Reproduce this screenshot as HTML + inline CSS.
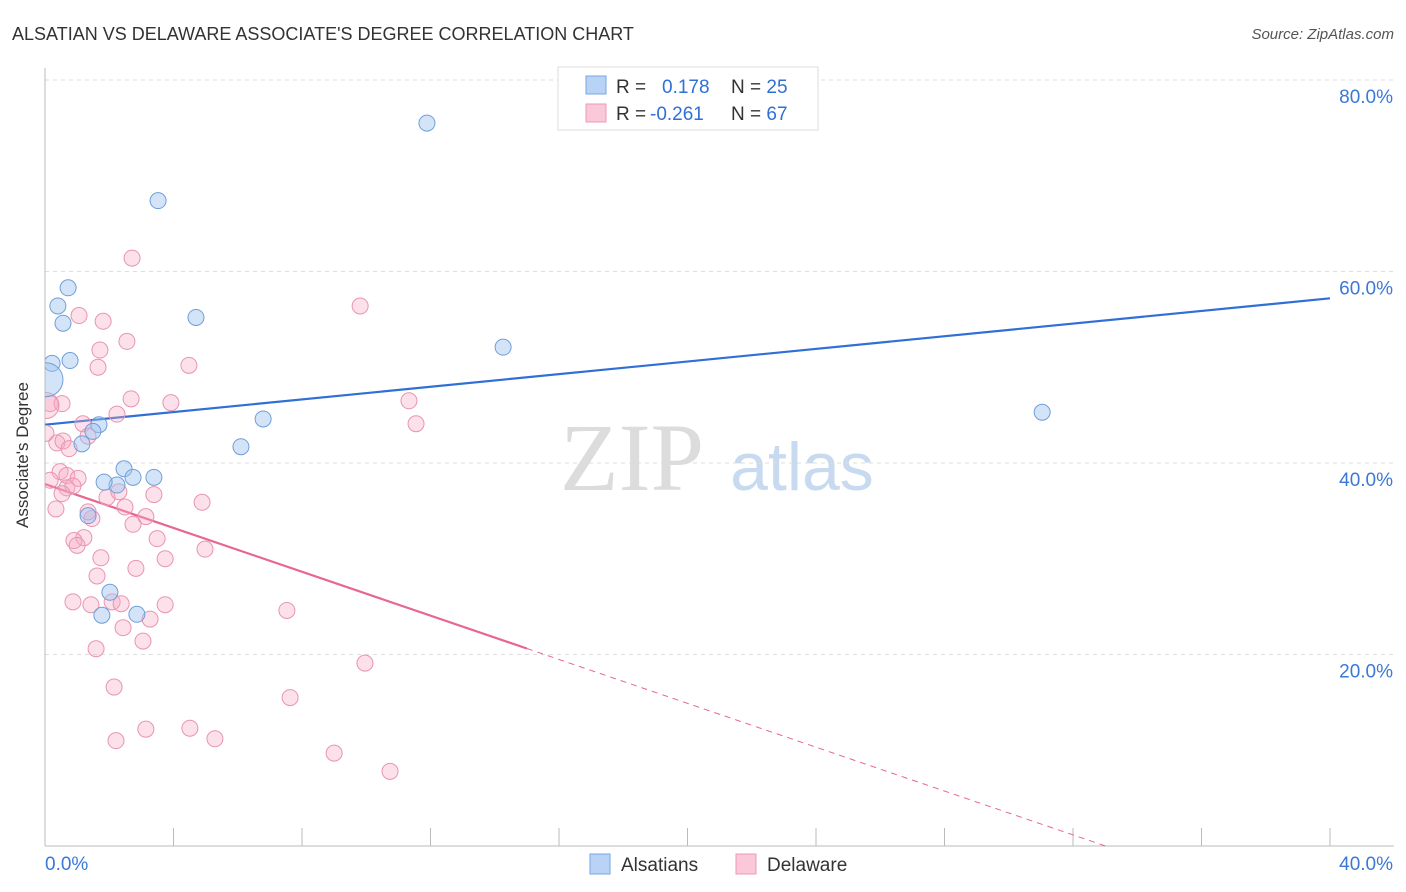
<!DOCTYPE html>
<html><head><meta charset="utf-8"><style>
body{margin:0;background:#fff;font-family:"Liberation Sans",sans-serif;}
#wrap{position:relative;width:1406px;height:892px;overflow:hidden;}
</style></head><body>
<div id="wrap">
<svg id="svg" width="1406" height="892" xmlns="http://www.w3.org/2000/svg">
<defs><clipPath id="plotclip"><rect x="45" y="60" width="1360" height="790"/></clipPath></defs>
<text x="12" y="40" font-size="18" fill="#333">ALSATIAN VS DELAWARE ASSOCIATE'S DEGREE CORRELATION CHART</text>
<text x="1394" y="39" font-size="15" fill="#555" font-style="italic" text-anchor="end">Source: ZipAtlas.com</text>
<g>
<text x="632" y="490" font-size="96" fill="#dcdcdc" font-family="Liberation Serif,serif" text-anchor="middle">ZIP</text>
<text x="802" y="490" font-size="68" fill="#c8daf0" text-anchor="middle">atlas</text>
</g>
<g id="grid"></g>
<g id="axes"></g>
<g id="lines"></g>
<g id="pts" clip-path="url(#plotclip)"></g>
<text x="28" y="455" font-size="17" fill="#333" text-anchor="middle" transform="rotate(-90 28 455)">Associate's Degree</text>
<g>
<rect x="558" y="67" width="260" height="63" fill="#fff" stroke="#ddd"/>
<rect x="586" y="76" width="20" height="18" fill="#b8d3f5" stroke="#7aa7e0"/>
<rect x="586" y="104" width="20" height="18" fill="#fac8d8" stroke="#ec9ab4"/>
<text x="616" y="93" font-size="19" fill="#333">R = <tspan fill="#2f6fd6" x="662">0.178</tspan><tspan x="731" fill="#333">N = </tspan><tspan fill="#2f6fd6">25</tspan></text>
<text x="616" y="120" font-size="19" fill="#333">R = <tspan fill="#2f6fd6" x="650">-0.261</tspan><tspan x="731" fill="#333">N = </tspan><tspan fill="#2f6fd6">67</tspan></text>
</g>
<g>
<rect x="590" y="854" width="20" height="20" fill="#b8d3f5" stroke="#7aa7e0"/>
<text x="621" y="871" font-size="19" fill="#333">Alsatians</text>
<rect x="736" y="854" width="20" height="20" fill="#fac8d8" stroke="#ec9ab4"/>
<text x="767" y="871" font-size="19" fill="#333">Delaware</text>
</g>
</svg>
</div>
<script>
const yTicks=[20,40,60,80];
const xTickLabels=["0.0%","40.0%"];
const blueX=[0.22,0.40,0.56,0.72,0.78,3.52,4.70,11.89,14.26,6.79,6.10,31.04,1.68,1.49,1.15,2.46,2.74,3.39,2.24,1.84,1.34,2.02,2.86,1.77,0.03];
const blueY=[50.4,56.4,54.6,58.3,50.7,67.4,55.2,75.5,52.1,44.6,41.7,45.3,44.0,43.3,42.0,39.4,38.5,38.5,37.7,38.0,34.5,26.5,24.2,24.1,48.7];
const pinkX=[2.71,9.81,1.06,1.81,2.55,1.71,4.48,1.65,2.68,3.92,2.24,11.33,11.55,1.18,1.34,0.37,0.56,0.75,0.16,0.53,0.03,0.47,0.68,1.03,0.68,0.87,0.53,1.93,2.30,3.39,4.89,2.49,0.34,1.46,3.14,1.34,2.74,3.49,1.21,0.90,1.00,4.98,1.74,3.74,2.83,1.62,0.87,1.43,2.09,2.37,3.74,7.53,3.27,2.43,3.05,1.59,9.96,2.15,7.63,4.51,3.14,2.21,5.29,9.00,10.74,0.16,0.03];
const pinkY=[61.4,56.4,55.4,54.8,52.7,51.8,50.2,50.0,46.7,46.3,45.1,46.5,44.1,44.1,42.8,42.1,42.3,41.5,46.2,46.2,43.1,39.1,38.7,38.4,37.4,37.6,36.8,36.4,37.0,36.7,35.9,35.4,35.2,34.2,34.4,34.9,33.6,32.1,32.2,31.9,31.4,31.0,30.1,30.0,29.0,28.2,25.5,25.2,25.5,25.3,25.2,24.6,23.7,22.8,21.4,20.6,19.1,16.6,15.5,12.3,12.2,11.0,11.2,9.7,7.8,38.2,46.0];
const blueTrend=[44.0,0.33];
const pinkTrend=[37.8,-1.145];
const NS="http://www.w3.org/2000/svg";
const X=v=>45+v*32.125, Y=v=>846-v*9.575;
function mk(tag,attrs,parent){const e=document.createElementNS(NS,tag);for(const k in attrs)e.setAttribute(k,attrs[k]);document.getElementById(parent).appendChild(e);return e;}
yTicks.forEach(t=>{
 const l=mk('line',{x1:45,x2:1394,y1:Y(t),y2:Y(t),stroke:'#ddd','stroke-dasharray':'4,4'},'grid');
 
 
 const tx=mk('text',{x:1393,y:Y(t)+23,'font-size':19,fill:'#3b78d8','text-anchor':'end'},'grid');
 tx.textContent=t.toFixed(1)+'%';
 
 
});
let a=mk('line',{x1:45,x2:45,y1:68,y2:846,stroke:'#bbb'},'axes');


a=mk('line',{x1:45,x2:1394,y1:846,y2:846,stroke:'#bbb'},'axes');


for(let i=0;i<=10;i++){const t=mk('line',{x1:X(i*4),x2:X(i*4),y1:828,y2:846,stroke:'#bbb'},'axes');
 
 }
[[0,xTickLabels[0],'start',45],[40,xTickLabels[1],'end',1393]].forEach(([v,s,anc,px])=>{
 const t=mk('text',{x:px,y:870,'font-size':19,fill:'#3b78d8','text-anchor':anc},'axes');t.textContent=s;
 
 });
let ln=mk('line',{x1:X(0),y1:Y(blueTrend[0]),x2:X(40),y2:Y(blueTrend[0]+blueTrend[1]*40),stroke:'#2f6fd6','stroke-width':2.2},'lines');


const pEnd=15, pZero=-pinkTrend[0]/pinkTrend[1];
ln=mk('line',{x1:X(0),y1:Y(pinkTrend[0]),x2:X(pEnd),y2:Y(pinkTrend[0]+pinkTrend[1]*pEnd),stroke:'#e8668f','stroke-width':2.2},'lines');


ln=mk('line',{x1:X(pEnd),y1:Y(pinkTrend[0]+pinkTrend[1]*pEnd),x2:X(pZero),y2:Y(0),stroke:'#e8668f','stroke-width':1,'stroke-dasharray':'6,5'},'lines');


pinkX.forEach((x,i)=>{const c=mk('circle',{cx:X(x),cy:Y(pinkY[i]),r:i==66?13:8,fill:'rgba(245,170,195,0.35)',stroke:'#e994b0','stroke-width':1},'pts');
 
 });
blueX.forEach((x,i)=>{const c=mk('circle',{cx:X(x),cy:Y(blueY[i]),r:i==24?17:8,fill:'rgba(160,195,240,0.45)',stroke:'#6f9fd8','stroke-width':1},'pts');
 
 });
</script>
</body></html>
